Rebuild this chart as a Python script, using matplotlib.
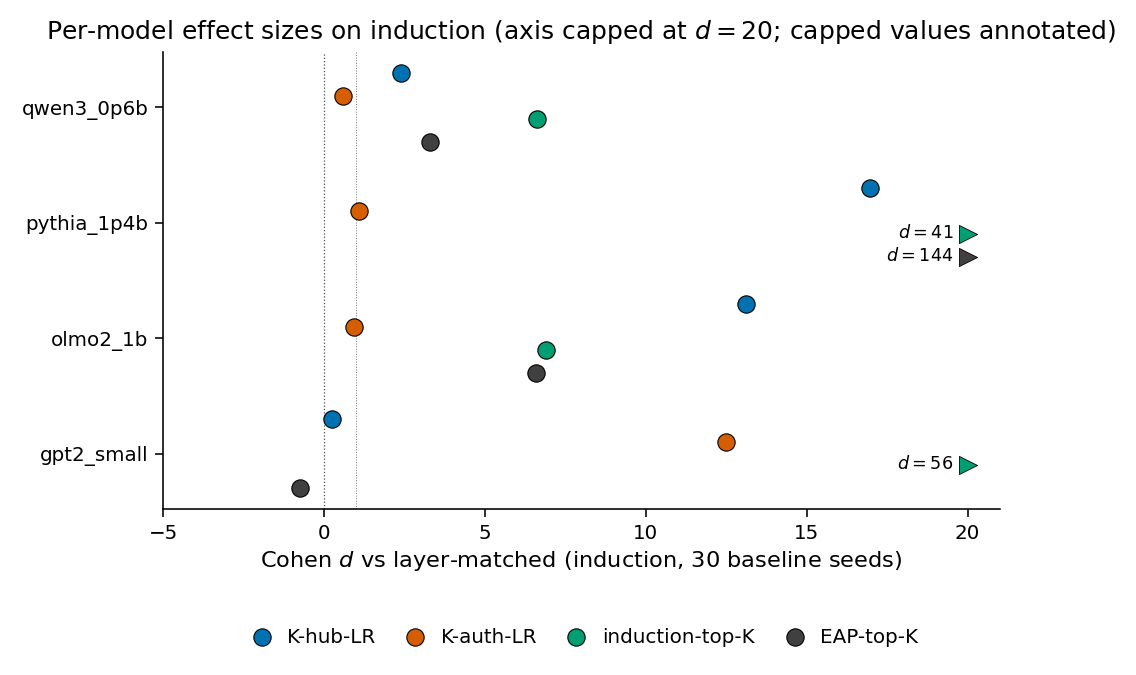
import matplotlib
matplotlib.use("Agg")
import matplotlib.pyplot as plt
import numpy as np

models = ["gpt2_small", "olmo2_1b", "pythia_1p4b", "qwen3_0p6b"]
series = ["K-hub-LR", "K-auth-LR", "induction-top-K", "EAP-top-K"]
colors = ["#0072B2", "#D55E00", "#009E73", "#404040"]
offsets = [0.3, 0.1, -0.1, -0.3]

# values per series, in the order of models
k_hub = [0.25, 13.13, 16.98, 2.40]
k_auth = [12.5, 0.93, 1.09, 0.59]
induction = [56.0, 6.91, 41.0, 6.63]
eap = [-0.75, 6.59, 144.0, 3.30]
values = [k_hub, k_auth, induction, eap]

cap = 20.0

fig = plt.figure(figsize=(11.36, 6.75), dpi=100)
ax = fig.add_axes([0.1435, 0.246, 0.7365, 0.677])

ax.axvline(0, color="0.3", lw=0.9, ls=":", zorder=1)
ax.axvline(1, color="0.45", lw=0.7, ls=":", zorder=1)

y_base = np.arange(len(models))
for vals, name, col, off in zip(values, series, colors, offsets):
    vals = np.array(vals)
    ys = y_base + off
    normal = vals <= cap
    ax.scatter(vals[normal], ys[normal], s=155, color=col, edgecolor="black",
               linewidth=0.8, zorder=3, label=name)
    for v, yy in zip(vals[~normal], ys[~normal]):
        ax.scatter([cap], [yy], marker=">", s=170, color=col, edgecolor="black",
                   linewidth=0.6, zorder=3)
        ax.annotate(f"$d = {v:.0f}$", xy=(cap, yy), xytext=(-10, 1),
                    textcoords="offset points", ha="right", va="center",
                    fontsize=12.7)

ax.set_xlim(-5, 21)
ax.set_yticks(y_base)
ax.set_yticklabels(models)
ax.tick_params(labelsize=14.3, length=5.5, width=1.15, pad=5)
for s in ("left", "bottom"):
    ax.spines[s].set_linewidth(1.15)
ax.spines["top"].set_visible(False)
ax.spines["right"].set_visible(False)
ax.set_xlabel("Cohen $d$ vs layer-matched (induction, 30 baseline seeds)", fontsize=16.2,
              labelpad=5)
ax.set_title("Per-model effect sizes on induction (axis capped at $d = 20$; capped values annotated)",
             fontsize=18, pad=9)

fig.legend(*ax.get_legend_handles_labels(), loc="center", bbox_to_anchor=(0.5106, 0.056),
           ncol=4, frameon=False, fontsize=14.3, handletextpad=0.3, columnspacing=1.0,
           markerscale=1.0)

fig.savefig("out.png", dpi=100)
